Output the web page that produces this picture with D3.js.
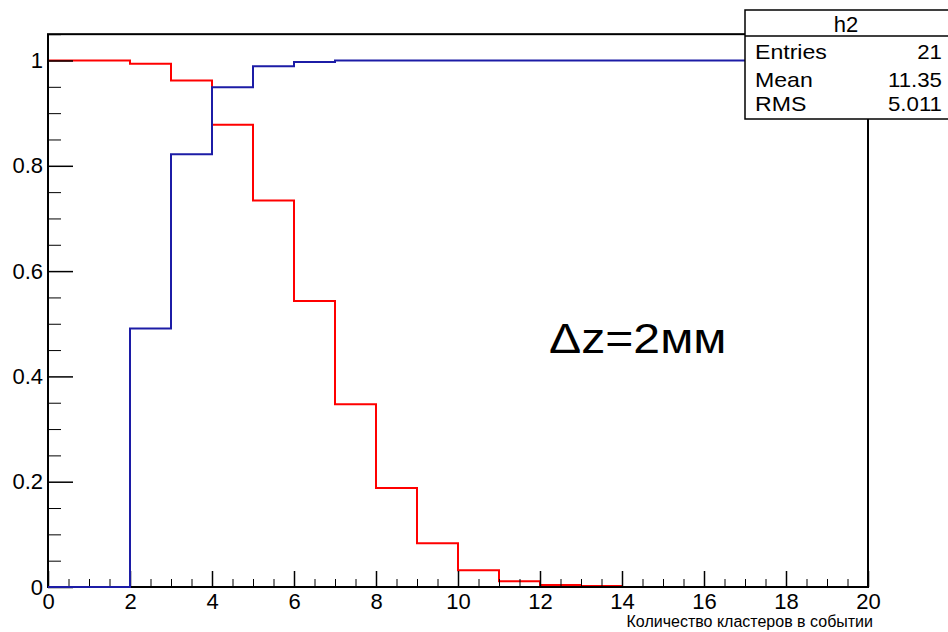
<!DOCTYPE html>
<html>
<head>
<meta charset="utf-8">
<script src="https://cdn.jsdelivr.net/npm/d3@7"></script>
<style>
  body { margin: 0; background: #fff; }
  svg text { font-family: "Liberation Sans", Arial, sans-serif; }
</style>
</head>
<body>
<div id="container"></div>
<script>
// bin edges 0..20, one value per bin
let binEdges = [0,1,2,3,4,5,6,7,8,9,10,11,12,13,14,15,16,17,18,19,20];
let redVals  = [1.0, 1.0, 0.994, 0.962, 0.878, 0.734, 0.543, 0.347, 0.188, 0.083,
                0.032, 0.011, 0.004, 0.002, 0, 0, 0, 0, 0, 0];
let blueVals = [0, 0, 0.491, 0.822, 0.949, 0.989, 0.997, 1, 1, 1,
                1, 1, 1, 1, 1, 1, 1, 1, 1, 1];

let xTickVals = [0,2,4,6,8,10,12,14,16,18,20];
let xTickLabels = ["0","2","4","6","8","10","12","14","16","18","20"];
let yTickVals = [0,0.2,0.4,0.6,0.8,1];
let yTickLabels = ["0","0.2","0.4","0.6","0.8","1"];

let statsTitle = "h2";
let statsNames = ["Entries","Mean","RMS"];
let statsValues = ["21","11.35","5.011"];

let xTitle = "Количество кластеров в событии";
let note = "Δz=2мм";

let W = 948, H = 632;
let stretchK = 1.1;

let svg = d3.select('#container')
            .append('svg')
            .attr("width", W)
            .attr("height", H);

let x = d3.scaleLinear().domain([0, 20]).range([48, 868]);
let y = d3.scaleLinear().domain([0, 1]).range([587, 60.5]);

// widen text a bit, the picture is a little stretched sideways
function stretch(sel, k){
    sel.each(function(){
        let len = this.getComputedTextLength();
        d3.select(this).attr("textLength", len * k).attr("lengthAdjust", "spacingAndGlyphs");
    });
}

function stepPoints(vals){
    let pts = vals.map((v, i) => [binEdges[i], v]);
    pts.push([binEdges[binEdges.length - 1], vals[vals.length - 1]]);
    return pts;
}

let line = d3.line()
    .x(d => x(d[0]))
    .y(d => y(d[1]))
    .curve(d3.curveStepAfter);

// red first, the frame goes over it
svg.append('path')
    .attr('d', line(stepPoints(redVals)))
    .attr('fill', 'none')
    .attr('stroke', '#ff0000')
    .attr('stroke-width', 2);

// frame
svg.append('rect')
    .attr('x', x(0)).attr('y', y(1.05))
    .attr('width', x(20) - x(0)).attr('height', y(0) - y(1.05))
    .attr('fill', 'none')
    .attr('stroke', '#000')
    .attr('stroke-width', 2);

// x axis: minor ticks every 0.5, major every 2
let xMinor = d3.range(0, 20.01, 0.5).filter(v => v % 2 !== 0);
svg.append('g')
    .attr('transform', `translate(0,${y(0)})`)
    .call(d3.axisBottom(x).tickValues(xMinor).tickSize(-8).tickFormat(''))
    .call(g => g.select('.domain').remove());

let xAxis = svg.append('g')
    .attr('transform', `translate(0,${y(0)})`)
    .call(d3.axisBottom(x).tickValues(xTickVals).tickSize(-16).tickPadding(6)
          .tickFormat((d, i) => xTickLabels[i]))
    .call(g => g.select('.domain').remove());
xAxis.selectAll('line').attr('stroke-width', 1.5);
xAxis.selectAll('text').attr('font-size', 22).attr('fill', '#000')
    .attr('font-family', '"Liberation Sans", Arial, sans-serif');

// y axis: minor every 0.05, major every 0.2
let yMinor = d3.range(0, 1.051, 0.05).filter((v, i) => i % 4 !== 0);
svg.append('g')
    .attr('transform', `translate(${x(0)},0)`)
    .call(d3.axisLeft(y).tickValues(yMinor).tickSize(-13).tickFormat(''))
    .call(g => g.select('.domain').remove());

let yAxis = svg.append('g')
    .attr('transform', `translate(${x(0)},0)`)
    .call(d3.axisLeft(y).tickValues(yTickVals).tickSize(-25).tickPadding(5)
          .tickFormat((d, i) => yTickLabels[i]))
    .call(g => g.select('.domain').remove());
yAxis.selectAll('line').attr('stroke-width', 1.5);
yAxis.selectAll('text').attr('font-size', 22).attr('fill', '#000')
    .attr('font-family', '"Liberation Sans", Arial, sans-serif');

svg.selectAll('.tick line').attr('stroke', '#000');

// blue drawn with "same", on top of the axis
svg.append('path')
    .attr('d', line(stepPoints(blueVals)))
    .attr('fill', 'none')
    .attr('stroke', '#1c1ca6')
    .attr('stroke-width', 2);

// axis title
svg.append('text')
    .attr('x', 873).attr('y', 627)
    .attr('text-anchor', 'end')
    .attr('font-size', 16)
    .text(xTitle);

// annotation
svg.append('text')
    .attr('x', 549).attr('y', 353)
    .attr('font-size', 43)
    .text(note)
    .call(stretch, 1.12);

// stats box
let box = svg.append('g');
box.append('rect')
    .attr('x', 745).attr('y', 10)
    .attr('width', 210).attr('height', 109)
    .attr('fill', '#fff')
    .attr('stroke', '#000')
    .attr('stroke-width', 1.5);
box.append('line')
    .attr('x1', 745).attr('x2', 948)
    .attr('y1', 36).attr('y2', 36)
    .attr('stroke', '#000')
    .attr('stroke-width', 1.5);
box.append('text')
    .attr('x', 846).attr('y', 32)
    .attr('text-anchor', 'middle')
    .attr('font-size', 22)
    .text(statsTitle);

let rowY = [59, 87, 111];
box.selectAll('.sname')
    .data(statsNames)
    .enter()
    .append('text')
    .attr('class', 'sname')
    .attr('x', 755)
    .attr('y', (d, i) => rowY[i])
    .attr('font-size', 21)
    .text(d => d)
    .call(stretch, stretchK);
box.selectAll('.sval')
    .data(statsValues)
    .enter()
    .append('text')
    .attr('class', 'sval')
    .attr('x', 942)
    .attr('y', (d, i) => rowY[i])
    .attr('text-anchor', 'end')
    .attr('font-size', 21)
    .text(d => d)
    .call(stretch, 1.06);
</script>
</body>
</html>
